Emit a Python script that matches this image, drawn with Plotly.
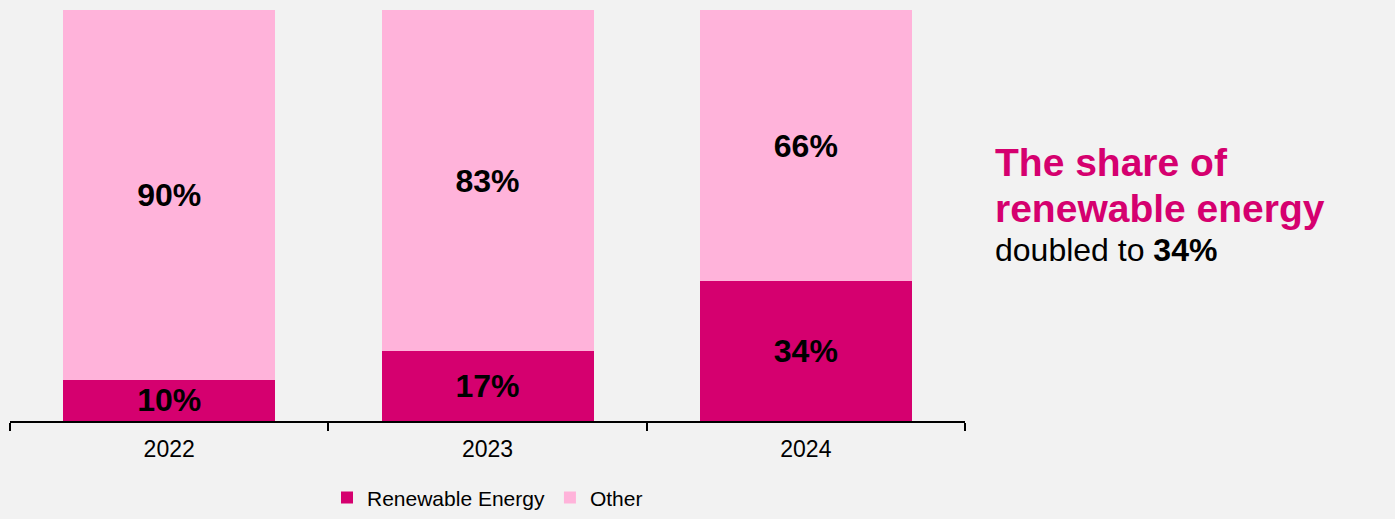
import plotly.graph_objects as go

years = ["2022", "2023", "2024"]
renewable = [10, 17, 34]
other = [90, 83, 66]

C_REN = "#D5006F"
C_OTH = "#FFB3DA"
FONT = "Liberation Sans, Arial, sans-serif"

fig = go.Figure()
fig.add_trace(go.Bar(
    x=years, y=renewable, name="Renewable Energy", marker=dict(color=C_REN, line=dict(width=0)),
    texttemplate="<b>%{y}%</b>", textposition="inside", insidetextanchor="middle",
    constraintext="none", textfont=dict(size=32, color="black", family=FONT),
))
fig.add_trace(go.Bar(
    x=years, y=other, name="Other", marker=dict(color=C_OTH, line=dict(width=0)),
    texttemplate="<b>%{y}%</b>", textposition="inside", insidetextanchor="middle",
    constraintext="none", textfont=dict(size=32, color="black", family=FONT),
))

fig.update_layout(
    barmode="stack",
    bargap=0.334,
    width=1395, height=519,
    margin=dict(l=10, r=430, t=10, b=98, autoexpand=False),
    paper_bgcolor="#F2F2F2", plot_bgcolor="#F2F2F2",
    font=dict(family=FONT, color="black"),
    showlegend=True,
    legend=dict(orientation="h", x=0.5, xanchor="center", y=-0.187, yanchor="middle",
                font=dict(size=21, color="black"), traceorder="normal", bgcolor="rgba(0,0,0,0)"),
    xaxis=dict(type="category", showline=True, linecolor="black", linewidth=2,
               ticks="outside", tickson="boundaries", ticklen=8, tickwidth=2, tickcolor="black",
               ticklabelstandoff=6, automargin=False,
               tickfont=dict(size=23, color="black"), showgrid=False, zeroline=False),
    yaxis=dict(range=[0, 100], visible=False, showgrid=False, automargin=False),
)

fig.add_annotation(xref="paper", yref="paper", x=1.029, y=0.630, xanchor="left", yanchor="middle",
                   text="<b>The share of</b>", showarrow=False,
                   font=dict(size=39, color=C_REN, family=FONT))
fig.add_annotation(xref="paper", yref="paper", x=1.029, y=0.517, xanchor="left", yanchor="middle",
                   text="<b>renewable energy</b>", showarrow=False,
                   font=dict(size=39, color=C_REN, family=FONT))
fig.add_annotation(xref="paper", yref="paper", x=1.029, y=0.416, xanchor="left", yanchor="middle",
                   text="doubled to <b>34%</b>", showarrow=False,
                   font=dict(size=32, color="black", family=FONT))

fig.write_html("out.html")
